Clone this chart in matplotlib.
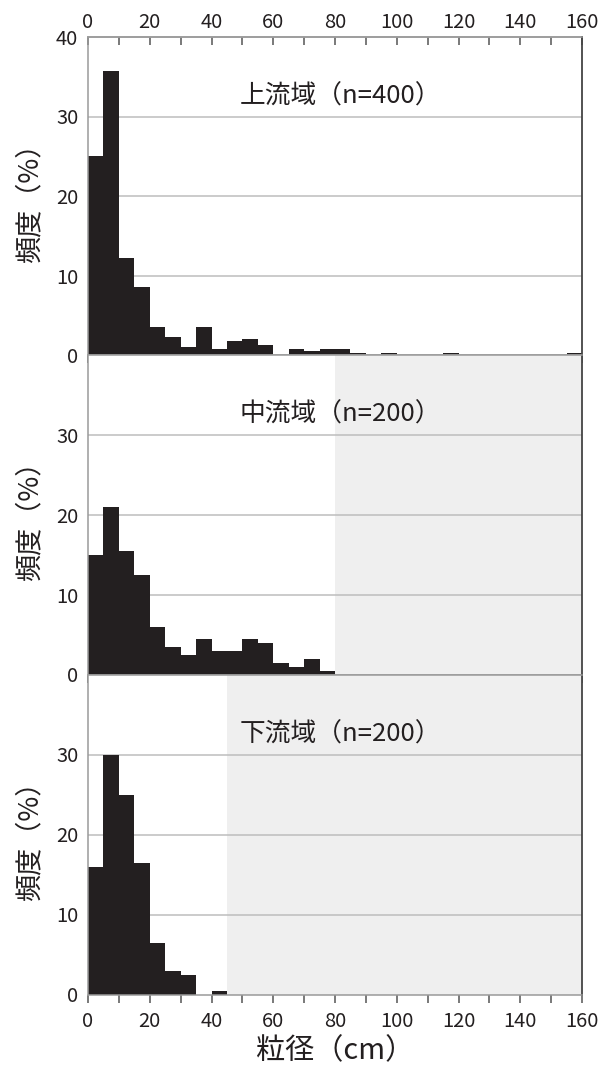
import matplotlib
matplotlib.use("Agg")
import matplotlib.pyplot as plt
import numpy as np

plt.rcParams['font.family'] = ['Noto Sans CJK JP', 'DejaVu Sans']

# bin width (cm); bars start at 0, 5, 10, ...
BIN_WIDTH = 5

# 上流域 (n=400) frequencies (%) for bins 0-5, 5-10, ...
upper = [25.0, 35.75, 12.25, 8.5, 3.5, 2.25, 1.0, 3.5, 0.75, 1.75,
         2.0, 1.25, 0.0, 0.75, 0.5, 0.75, 0.75, 0.25, 0.0, 0.25,
         0.0, 0.0, 0.0, 0.25, 0.0, 0.0, 0.0, 0.0, 0.0, 0.0, 0.0, 0.25]
# 中流域 (n=200)
middle = [15.0, 21.0, 15.5, 12.5, 6.0, 3.5, 2.5, 4.5, 3.0, 3.0,
          4.5, 4.0, 1.5, 1.0, 2.0, 0.5]
# 下流域 (n=200)
lower = [16.0, 30.0, 25.0, 16.5, 6.5, 3.0, 2.5, 0.0, 0.5]

titles = ["上流域（n=400）", "中流域（n=200）", "下流域（n=200）"]
series = [upper, middle, lower]
shade_from = [None, 80, 45]   # out of measured range

x_ticks = list(range(0, 161, 10))
x_labels = [str(v) if v % 20 == 0 else "" for v in x_ticks]

BAR = "#231f20"
GRID = "#bdbdbd"
SHADE = "#efefef"
SPINE = "#9a9a9a"
TICK = "#555555"
TEXT = "#231f20"

fig = plt.figure(figsize=(6.01, 10.65), dpi=100)
left, width = 88 / 601, 494 / 601
H = 1065
panels = [(37, 355), (355, 674.5), (674.5, 994.5)]

for i, (vals, title, shade) in enumerate(zip(series, titles, shade_from)):
    top_px, bot_px = panels[i]
    ax = fig.add_axes([left, (H - bot_px) / H, width, (bot_px - top_px) / H])
    ax.set_xlim(0, 160)
    ax.set_ylim(0, 40)

    if shade is not None:
        ax.axvspan(shade, 160, color=SHADE, lw=0, zorder=0)
    for g in (10, 20, 30):
        ax.axhline(g, color=GRID, lw=1.1, zorder=1)

    edges = np.arange(len(vals)) * BIN_WIDTH
    ax.bar(edges, vals, width=BIN_WIDTH, align="edge", color=BAR,
           edgecolor="none", zorder=2)

    ax.text(49, 32.5, title, ha="left", va="center", fontsize=18.5, color=TEXT)

    for side in ("left", "top", "bottom"):
        ax.spines[side].set_color(SPINE)
        ax.spines[side].set_linewidth(1.1)
    ax.spines["right"].set_color("#444444")
    ax.spines["right"].set_linewidth(1.3)

    ax.set_xticks(x_ticks)
    ax.set_xticklabels(x_labels)
    ax.tick_params(axis="x", direction="out", length=6, width=1.1, color=TICK,
                   labelsize=14.5, labelcolor=TEXT, pad=6,
                   labelbottom=(i == 2))
    if i == 0:
        ax.set_yticks([0, 10, 20, 30, 40])
        sec = ax.secondary_xaxis("top")
        sec.set_xticks(x_ticks)
        sec.set_xticklabels(x_labels)
        sec.tick_params(direction="in", length=6, width=1.1, color=TICK,
                        labelsize=14.5, labelcolor=TEXT, pad=3)
        sec.spines["top"].set_color(SPINE)
        sec.spines["top"].set_linewidth(1.1)
    else:
        ax.set_yticks([0, 10, 20, 30])
    ax.tick_params(axis="y", length=0, pad=7, labelsize=14.5, labelcolor=TEXT)

    ax.set_ylabel("頻度（%）", fontsize=19.5, color=TEXT)
    ax.yaxis.set_label_coords(-0.09, 0.5)

    if i == 2:
        ax.set_xlabel("粒径（cm）", fontsize=21, color=TEXT, labelpad=3)

fig.savefig("out.png", dpi=100, facecolor="white")
